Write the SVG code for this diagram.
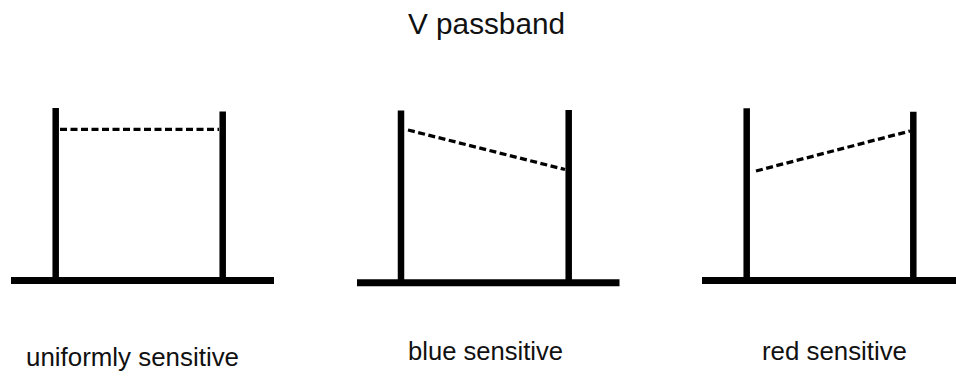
<svg xmlns="http://www.w3.org/2000/svg" width="956" height="376" viewBox="0 0 956 376">
  <style>
    .post { stroke: #000; stroke-width: 6.5; fill: none; }
    .base { stroke: #000; stroke-width: 7; fill: none; }
    .level { stroke: #000; stroke-width: 3.3; stroke-dasharray: 7 3.5; fill: none; }
    .title { font-family: "Liberation Sans", Arial, sans-serif; font-size: 29px; fill: #111; }
    .label { font-family: "Liberation Sans", Arial, sans-serif; font-size: 25px; fill: #111; }
  </style>
  <rect width="956" height="376" fill="#fff"/>
  <text class="title" x="408" y="34" textLength="157" lengthAdjust="spacingAndGlyphs">V passband</text>

  <g id="uniform">
    <line class="base" x1="11" y1="280.5" x2="274" y2="280.5"/>
    <line class="post" x1="55.7" y1="108" x2="55.7" y2="280"/>
    <line class="post" x1="222.7" y1="111.5" x2="222.7" y2="280"/>
    <line class="level" x1="60" y1="129.3" x2="219" y2="129.3"/>
    <text class="label" x="26" y="366" textLength="213" lengthAdjust="spacingAndGlyphs">uniformly sensitive</text>
  </g>

  <g id="blue">
    <line class="base" x1="357" y1="282.7" x2="619.5" y2="282.7"/>
    <line class="post" x1="401" y1="110.5" x2="401" y2="282"/>
    <line class="post" x1="568.7" y1="110" x2="568.7" y2="282"/>
    <line class="level" x1="408" y1="130" x2="565" y2="169.5"/>
    <text class="label" x="408" y="360" textLength="155" lengthAdjust="spacingAndGlyphs">blue sensitive</text>
  </g>

  <g id="red">
    <line class="base" x1="702" y1="280.5" x2="956" y2="280.5"/>
    <line class="post" x1="746.7" y1="108.3" x2="746.7" y2="280"/>
    <line class="post" x1="913.3" y1="111.7" x2="913.3" y2="280"/>
    <line class="level" x1="756" y1="171" x2="910" y2="131"/>
    <text class="label" x="762" y="360" textLength="145" lengthAdjust="spacingAndGlyphs">red sensitive</text>
  </g>
</svg>
